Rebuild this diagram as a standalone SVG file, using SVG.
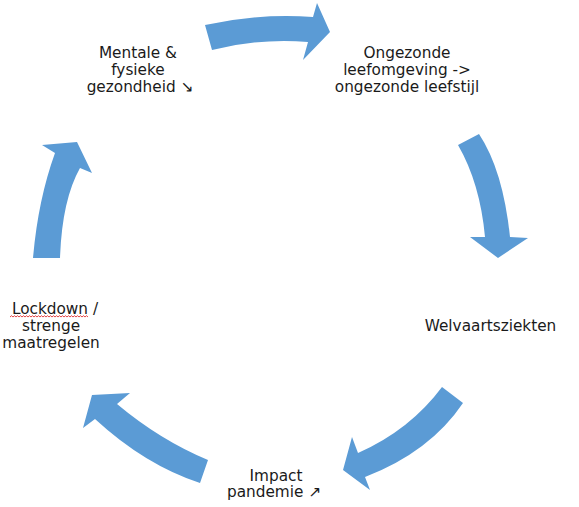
<svg xmlns="http://www.w3.org/2000/svg" width="579" height="507" viewBox="0 0 579 507">
<style>
.arrow{fill:#5B9BD5;stroke:none}
.lbl{font-family:"DejaVu Sans","Liberation Sans",sans-serif;font-size:15.3px;fill:#1a1a1a;text-anchor:middle}
.spell{fill:none;stroke:#e03030;stroke-width:0.9}
</style>
<rect width="579" height="507" fill="#ffffff"/>
<g id="connectors">
<path class="arrow" d="M205,25 Q260,13 313,17 L317,3 L330,32 L303,60 L308,42 Q260,38 212,50 Z"/>
<path class="arrow" d="M458,145 Q480,183 485,237 L470,237 L498,258 L528,238 L510,237 Q503,170 479,134 Z"/>
<path class="arrow" d="M442,387 Q410,430 358,453 L352,437 L343,470 L370,490 L365,477 Q430,452 463,403 Z"/>
<path class="arrow" d="M208,460 Q160,440 117,404 L130,393 L92,395 L83,428 L95,419 Q145,465 200,483 Z"/>
<path class="arrow" d="M60,258 Q62,200 80,168 L92,173 L77,142 L42,145 L55,153 Q38,200 33,258 Z"/>
</g>
<g id="node-gezondheid">
<text class="lbl" x="138" y="57.5">Mentale &amp;</text>
<text class="lbl" x="138" y="74.5">fysieke</text>
<text class="lbl" x="140" y="91.5">gezondheid ↘</text>
</g>
<g id="node-leefomgeving">
<text class="lbl" x="407" y="57.5">Ongezonde</text>
<text class="lbl" x="407" y="74.5">leefomgeving -&gt;</text>
<text class="lbl" x="407" y="91.5">ongezonde leefstijl</text>
</g>
<g id="node-welvaartsziekten">
<text class="lbl" x="490.5" y="331">Welvaartsziekten</text>
</g>
<g id="node-impact">
<text class="lbl" x="276" y="480.5">Impact</text>
<text class="lbl" x="274" y="497">pandemie ↗</text>
</g>
<g id="node-lockdown">
<text class="lbl" x="55" y="314">Lockdown /</text>
<text class="lbl" x="51" y="331">strenge</text>
<text class="lbl" x="51" y="347.5">maatregelen</text>
<path class="spell" d="M10,317 l1.5,-1.3 l1.5,1.3 l1.5,-1.3 l1.5,1.3 l1.5,-1.3 l1.5,1.3 l1.5,-1.3 l1.5,1.3 l1.5,-1.3 l1.5,1.3 l1.5,-1.3 l1.5,1.3 l1.5,-1.3 l1.5,1.3 l1.5,-1.3 l1.5,1.3 l1.5,-1.3 l1.5,1.3 l1.5,-1.3 l1.5,1.3 l1.5,-1.3 l1.5,1.3 l1.5,-1.3 l1.5,1.3 l1.5,-1.3 l1.5,1.3 l1.5,-1.3 l1.5,1.3 l1.5,-1.3 l1.5,1.3 l1.5,-1.3 l1.5,1.3 l1.5,-1.3 l1.5,1.3 l1.5,-1.3 l1.5,1.3 l1.5,-1.3 l1.5,1.3 l1.5,-1.3 l1.5,1.3 l1.5,-1.3 l1.5,1.3 l1.5,-1.3 l1.5,1.3 l1.5,-1.3 l1.5,1.3 l1.5,-1.3 l1.5,1.3 l1.5,-1.3 l1.5,1.3 l1.5,-1.3 l1.5,1.3"/>
</g>
</svg>
